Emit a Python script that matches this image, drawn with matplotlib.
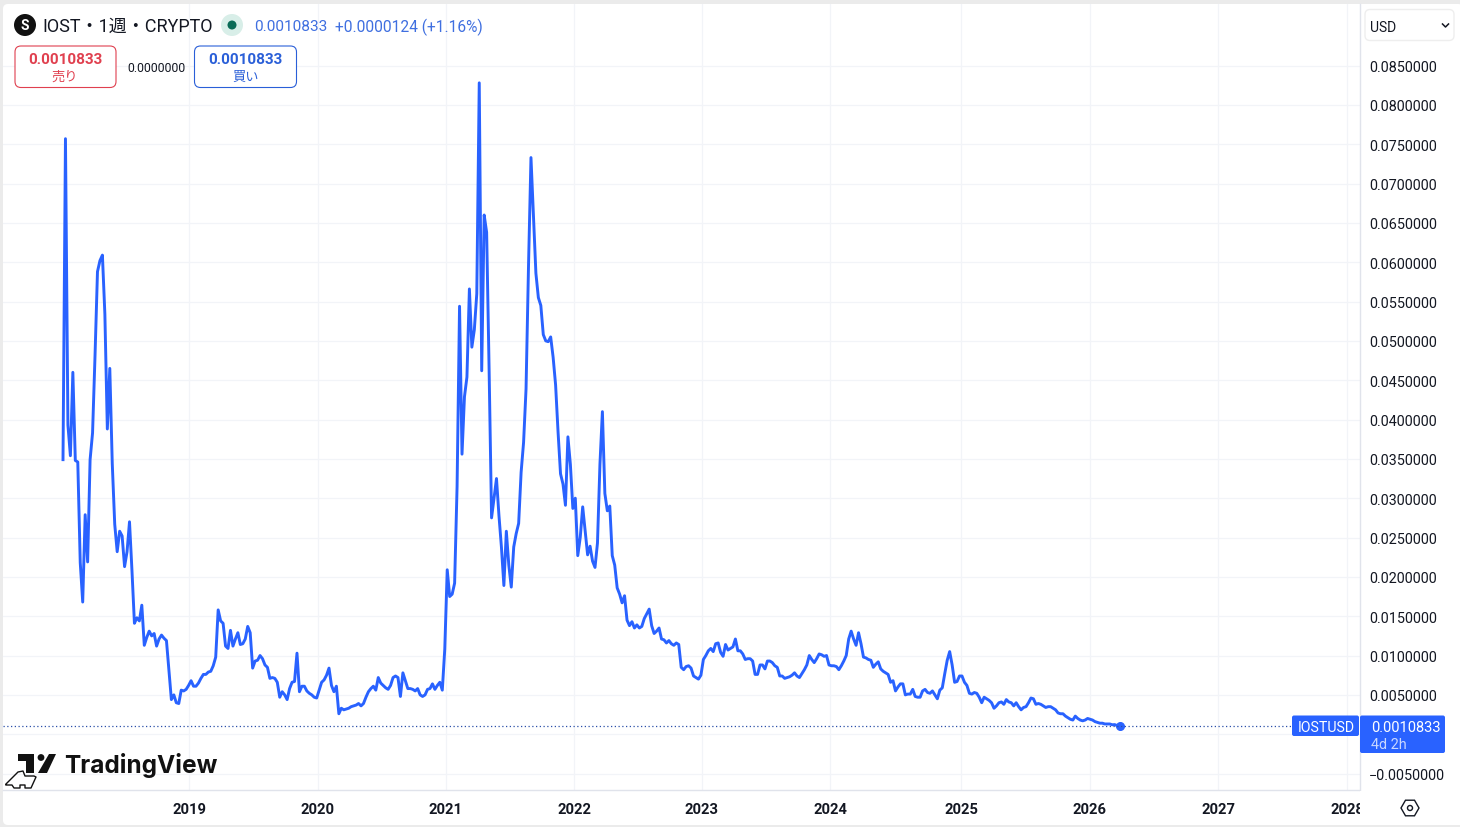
import matplotlib
matplotlib.use("Agg")
import matplotlib.pyplot as plt
from matplotlib.patches import FancyBboxPatch, Rectangle, Circle, Polygon, RegularPolygon
import numpy as np

W, H = 1460, 828
FONT = ["Roboto", "Noto Sans CJK JP", "DejaVu Sans"]
plt.rcParams["font.family"] = FONT

# weekly closes
prices_2018 = [0.0349, 0.0757, 0.0393, 0.0354, 0.0460, 0.0348, 0.0346, 0.0218, 0.0168, 0.0279, 0.0219, 0.0349, 0.0383,
               0.0481, 0.0588, 0.0602, 0.0609, 0.0534, 0.0388, 0.0465, 0.0344, 0.0267, 0.0232, 0.0258, 0.0252, 0.0213,
               0.0232, 0.0270, 0.0208, 0.0141, 0.0148, 0.0144, 0.0164, 0.0113, 0.0123, 0.0131, 0.0125, 0.0128, 0.0112,
               0.0121, 0.0126, 0.0122, 0.0119, 0.0082, 0.0044, 0.0050, 0.0040, 0.0039, 0.0056, 0.0055, 0.0057, 0.0062]
prices_2019 = [0.0068, 0.0061, 0.0061, 0.0065, 0.0071, 0.0076, 0.0076, 0.0079, 0.0080, 0.0087, 0.0098, 0.0158, 0.0144,
               0.0141, 0.0112, 0.0109, 0.0132, 0.0112, 0.0121, 0.0129, 0.0114, 0.0115, 0.0121, 0.0137, 0.0129, 0.0084,
               0.0093, 0.0094, 0.0100, 0.0096, 0.0088, 0.0085, 0.0071, 0.0072, 0.0071, 0.0066, 0.0047, 0.0054, 0.0050,
               0.0044, 0.0058, 0.0066, 0.0067, 0.0103, 0.0054, 0.0061, 0.0061, 0.0055, 0.0052, 0.0050, 0.0047, 0.0046]
prices_2020 = [0.0056, 0.0066, 0.0069, 0.0075, 0.0084, 0.0062, 0.0054, 0.0061, 0.0026, 0.0033, 0.0031, 0.0032, 0.0033,
               0.0035, 0.0036, 0.0037, 0.0039, 0.0036, 0.0039, 0.0047, 0.0054, 0.0058, 0.0061, 0.0056, 0.0072, 0.0065,
               0.0062, 0.0059, 0.0057, 0.0062, 0.0072, 0.0074, 0.0072, 0.0048, 0.0078, 0.0068, 0.0058, 0.0058, 0.0057,
               0.0055, 0.0058, 0.0050, 0.0048, 0.0050, 0.0057, 0.0058, 0.0064, 0.0057, 0.0062, 0.0066, 0.0056, 0.0108]
prices_2021 = [0.0209, 0.0175, 0.0178, 0.0192, 0.0315, 0.0544, 0.0356, 0.0429, 0.0454, 0.0566, 0.0492, 0.0514, 0.0560,
               0.0828, 0.0462, 0.0660, 0.0638, 0.0464, 0.0275, 0.0300, 0.0325, 0.0278, 0.0238, 0.0189, 0.0258, 0.0215,
               0.0187, 0.0238, 0.0255, 0.0268, 0.0333, 0.0371, 0.0439, 0.0595, 0.0733, 0.0660, 0.0586, 0.0555, 0.0545,
               0.0508, 0.0500, 0.0499, 0.0505, 0.0479, 0.0444, 0.0384, 0.0331, 0.0318, 0.0291, 0.0378, 0.0343, 0.0287]
prices_2022 = [0.0300, 0.0227, 0.0250, 0.0289, 0.0258, 0.0228, 0.0239, 0.0220, 0.0212, 0.0243, 0.0343, 0.0410, 0.0306,
               0.0284, 0.0290, 0.0227, 0.0215, 0.0186, 0.0178, 0.0167, 0.0176, 0.0145, 0.0138, 0.0143, 0.0135, 0.0139,
               0.0135, 0.0137, 0.0147, 0.0153, 0.0159, 0.0138, 0.0128, 0.0131, 0.0135, 0.0121, 0.0120, 0.0116, 0.0119,
               0.0115, 0.0113, 0.0116, 0.0114, 0.0085, 0.0082, 0.0086, 0.0087, 0.0084, 0.0074, 0.0072, 0.0070, 0.0075]
prices_2023 = [0.0095, 0.0100, 0.0106, 0.0109, 0.0105, 0.0115, 0.0116, 0.0104, 0.0099, 0.0114, 0.0107, 0.0109, 0.0111,
               0.0121, 0.0106, 0.0106, 0.0102, 0.0095, 0.0096, 0.0096, 0.0093, 0.0076, 0.0076, 0.0088, 0.0088, 0.0083,
               0.0093, 0.0093, 0.0091, 0.0087, 0.0085, 0.0074, 0.0074, 0.0071, 0.0072, 0.0073, 0.0075, 0.0078, 0.0074,
               0.0072, 0.0077, 0.0082, 0.0088, 0.0100, 0.0095, 0.0091, 0.0096, 0.0102, 0.0101, 0.0099, 0.0100, 0.0088]
prices_2024 = [0.0087, 0.0087, 0.0086, 0.0082, 0.0087, 0.0093, 0.0100, 0.0121, 0.0131, 0.0121, 0.0113, 0.0129, 0.0115,
               0.0098, 0.0097, 0.0095, 0.0094, 0.0085, 0.0089, 0.0092, 0.0083, 0.0080, 0.0078, 0.0076, 0.0066, 0.0068, 0.0055,
               0.0060, 0.0064, 0.0064, 0.0050, 0.0051, 0.0051, 0.0057, 0.0048, 0.0047, 0.0047, 0.0055, 0.0057, 0.0053,
               0.0052, 0.0055, 0.0050, 0.0045, 0.0056, 0.0059, 0.0077, 0.0094, 0.0105, 0.0088, 0.0066, 0.0067, 0.0074]
prices_2025 = [0.0074, 0.0066, 0.0062, 0.0052, 0.0051, 0.0053, 0.0052, 0.0047, 0.0040, 0.0047, 0.0045, 0.0043, 0.0040, 0.0033,
               0.0036, 0.0040, 0.0041, 0.0038, 0.0044, 0.0041, 0.0040, 0.0036, 0.0040, 0.0035, 0.0031, 0.0034, 0.0035,
               0.0040, 0.0046, 0.0045, 0.0038, 0.0039, 0.0038, 0.0036, 0.0034, 0.0035, 0.0035, 0.0033, 0.0031, 0.0027,
               0.0026, 0.0026, 0.0023, 0.0021, 0.0019, 0.0018, 0.0023, 0.0020, 0.0018, 0.0017, 0.0018, 0.0020, 0.0019]
prices_2026 = [0.0018, 0.0016, 0.0015, 0.0014, 0.0014, 0.0013, 0.0013, 0.0013, 0.0012, 0.00122, 0.00109, 0.0010833]

prices = np.array(prices_2018 + prices_2019 + prices_2020 + prices_2021 + prices_2022
                  + prices_2023 + prices_2024 + prices_2025 + prices_2026)
weeks = np.arange(len(prices))
last_price = 0.0010833

year_labels = ["2019", "2020", "2021", "2022", "2023", "2024", "2025", "2026", "2027", "2028"]
year_weeks = [51.2, 103.5, 155.5, 207.5, 259.4, 311.6, 364.6, 416.8, 469.0, 521.3]
price_ticks = np.arange(-0.005, 0.0851, 0.005)

BLUE = "#2962ff"
GRID = "#f2f4f8"
EDGE = "#e0e3eb"
INK = "#131722"

fig = plt.figure(figsize=(W / 100, H / 100), dpi=100, facecolor="#ebebeb")

# white chart card behind everything
bg = fig.add_axes([0, 0, 1, 1], zorder=0)
bg.set_xlim(0, W)
bg.set_ylim(H, 0)
bg.axis("off")
bg.add_patch(FancyBboxPatch((3, 5), W, 821, boxstyle="round,pad=0,rounding_size=5", fc="white", ec="none"))

# main chart, x is the bar number as on the real time axis
left, right, top, bottom = 3, 1359.5, 5, 791
ax = fig.add_axes([left / W, 1 - bottom / H, (right - left) / W, (bottom - top) / H], zorder=1)
ax.patch.set_alpha(0)
ax.set_xlim((left - 63) / 2.463, (right - 63) / 2.463)
ax.set_ylim((735.2 - bottom) * 0.00012712, (735.2 - top) * 0.00012712)
ax.grid(True, color=GRID, lw=0.9)
ax.set_axisbelow(True)
ax.plot(weeks, prices, color=BLUE, lw=2.1, solid_joinstyle="round")
ax.plot(weeks[-1], prices[-1], "o", color=BLUE, ms=5.5)
ax.axhline(last_price, color="#2a4fa8", lw=0.9, ls=(0, (1, 2)))

ax.set_xticks(year_weeks)
ax.set_xticklabels(year_labels, fontsize=10.6, fontweight="bold", color=INK)
ax.set_yticks(price_ticks)
# the zero label sits behind the last price box, so it stays empty
ax.set_yticklabels(["" if abs(t) < 1e-9 else f"{t:.7f}".replace("-", "\u2212") for t in price_ticks],
                   fontsize=10.4, color=INK)
ax.yaxis.tick_right()
ax.tick_params(axis="both", length=0)
ax.tick_params(axis="y", pad=7)
ax.tick_params(axis="x", pad=9)
for s in ["top", "left"]:
    ax.spines[s].set_visible(False)
for s in ["right", "bottom"]:
    ax.spines[s].set_color(EDGE)
    ax.spines[s].set_linewidth(1)

# overlay for the widgets, in pixel coordinates
ui = fig.add_axes([0, 0, 1, 1], zorder=2)
ui.set_xlim(0, W)
ui.set_ylim(H, 0)
ui.axis("off")
ui.patch.set_alpha(0)

ui.add_patch(Rectangle((1360, 792), 100, 34, fc="white", ec="none"))
ui.add_patch(RegularPolygon((1410, 809), 6, radius=9, orientation=np.pi / 2, fc="none", ec=INK, lw=1))
ui.add_patch(Circle((1410, 809), 2.5, fc="none", ec=INK, lw=1))

# symbol header
ui.add_patch(Circle((25, 26), 11, fc="#111111", ec="none"))
ui.text(25, 26.5, "S", color="white", fontsize=10, fontweight="bold", ha="center", va="center")
ui.text(42, 27, "IOST・1週・CRYPTO", fontsize=13, color=INK, va="center")
ui.add_patch(Circle((232, 26), 11, fc="#d8eee8", ec="none"))
ui.add_patch(Circle((232, 26), 4.5, fc="#0b6b57", ec="none"))
ui.text(254, 27, "0.0010833", fontsize=11.1, color="#3f6fe0", va="center")
ui.text(335, 27, "+0.0000124 (+1.16%)", fontsize=11.2, color="#3f6fe0", va="center")

# sell / buy buttons
ui.add_patch(FancyBboxPatch((15, 47), 101, 41.5, boxstyle="round,pad=0,rounding_size=6", fc="white", ec="#e0404f", lw=0.8))
ui.text(65.5, 60, "0.0010833", fontsize=11, fontweight="bold", color="#e0404f", ha="center", va="center")
ui.text(65, 77, "売り", fontsize=9.5, color="#e0404f", ha="center", va="center")
ui.text(156, 68, "0.0000000", fontsize=8.8, color=INK, ha="center", va="center")
ui.add_patch(FancyBboxPatch((194.5, 47), 102, 41.5, boxstyle="round,pad=0,rounding_size=6", fc="white", ec="#2a5fd8", lw=0.8))
ui.text(245.5, 60, "0.0010833", fontsize=11, fontweight="bold", color="#2a5fd8", ha="center", va="center")
ui.text(245.5, 77, "買い", fontsize=9.5, color="#2a5fd8", ha="center", va="center")

# currency box
ui.add_patch(FancyBboxPatch((1365, 10.5), 89, 31, boxstyle="round,pad=0,rounding_size=5", fc="white", ec="#eeeeee", lw=1))
ui.text(1370, 27.5, "USD", fontsize=10, color=INK, va="center")
ui.plot([1442.5, 1445.5, 1448.5], [25, 28, 25], color=INK, lw=1.1)

# last price labels
ui.add_patch(FancyBboxPatch((1292, 716.5), 67, 20.5, boxstyle="round,pad=0,rounding_size=2", fc=BLUE, ec="none"))
ui.add_patch(FancyBboxPatch((1360, 716.5), 85, 37.5, boxstyle="round,pad=0,rounding_size=2", fc=BLUE, ec="none"))
ui.text(1326, 728, "IOSTUSD", fontsize=10.2, color="white", ha="center", va="center")
ui.text(1371, 728, "0.0010833", fontsize=10.5, color="white", va="center")
ui.text(1371, 745, "4d 2h", fontsize=10.4, color="#c9d7ff", va="center")

# TradingView logo
logo = "#111111"
ui.add_patch(Polygon([(18, 755), (34, 755), (34, 774), (26, 774), (26, 762), (18, 762)], fc=logo, ec="none"))
ui.add_patch(Circle((41, 758.5), 3.4, fc=logo, ec="none"))
ui.add_patch(Polygon([(49, 755), (56, 755), (47, 774), (38, 774)], fc=logo, ec="none"))
ui.text(64, 765.5, "TradingView", family=["Inter", "DejaVu Sans"], fontsize=17.6, fontweight="bold", color=logo, va="center")
dino_x = [6, 18, 23, 25, 34, 36, 31, 25, 25, 20, 20, 14, 12, 6]
dino_y = [785, 773, 772, 777, 777, 778, 789, 789, 786, 786, 789, 789, 786, 786]
ui.plot(dino_x, dino_y, color=logo, lw=1)

fig.savefig("out.png", dpi=100, facecolor=fig.get_facecolor())
